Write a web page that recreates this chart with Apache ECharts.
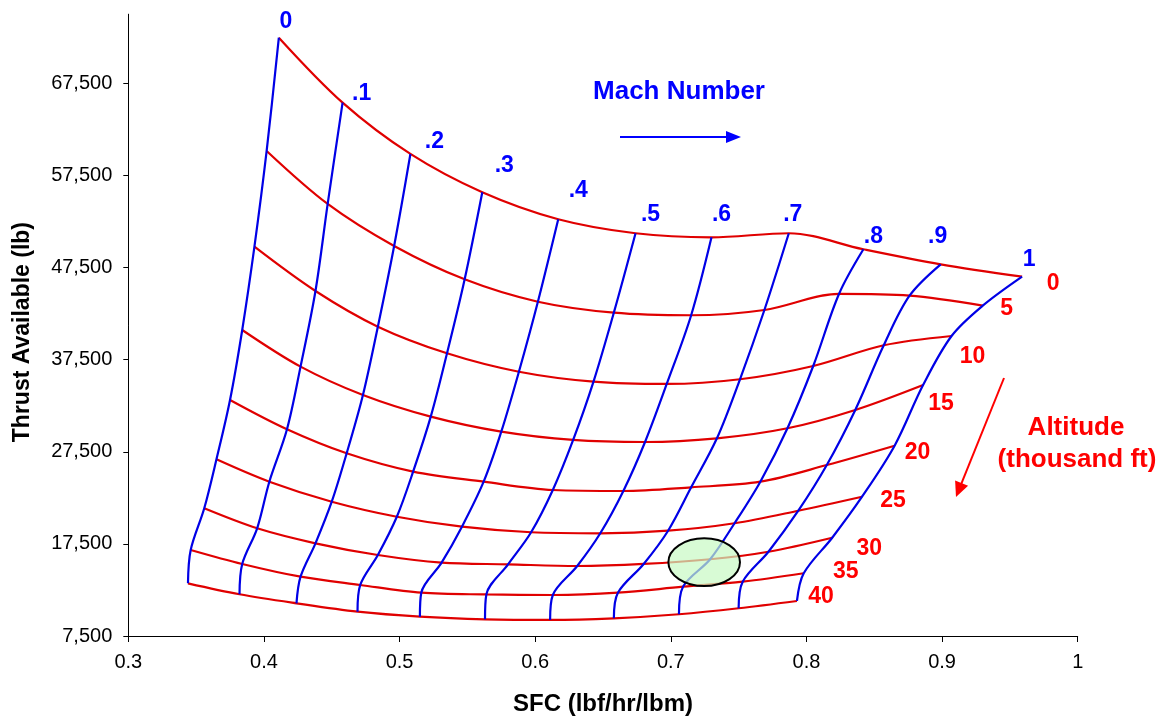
<!DOCTYPE html>
<html>
<head>
<meta charset="utf-8">
<script src="https://cdn.jsdelivr.net/npm/echarts@6/dist/echarts.min.js"></script>
<style>
html,body{margin:0;padding:0;background:#fff;}
#chart{width:1169px;height:721px;}
</style>
</head>
<body>
<div id="chart"></div>
<script>
// ---- Data ----
const machNumbers = [0, 0.1, 0.2, 0.3, 0.4, 0.5, 0.6, 0.7, 0.8, 0.9, 1.0];
const machLabels = ['0', '.1', '.2', '.3', '.4', '.5', '.6', '.7', '.8', '.9', '1'];
const altitudes = [0, 5, 10, 15, 20, 25, 30, 35, 40];
const altLabels = ['0', '5', '10', '15', '20', '25', '30', '35', '40'];

// SFC (lbf/hr/lbm) and thrust (lb) for each altitude, Mach 0 .. 1
const sfcAlt0 = [0.411, 0.458, 0.508, 0.561, 0.617, 0.674, 0.730, 0.787, 0.842, 0.899, 0.959];
const thrustAlt0 = [72450, 65400, 59830, 55670, 52740, 51220, 50780, 51220, 49480, 47850, 46510];
const sfcAlt5 = [0.402, 0.447, 0.496, 0.548, 0.602, 0.658, 0.715, 0.769, 0.824, 0.876, 0.930];
const thrustAlt5 = [60150, 54400, 49840, 46220, 43790, 42600, 42320, 42890, 44630, 44440, 43360];
const sfcAlt10 = [0.393, 0.438, 0.484, 0.535, 0.588, 0.643, 0.697, 0.751, 0.805, 0.857, 0.907];
const thrustAlt10 = [49760, 44950, 41080, 38190, 36190, 35110, 34860, 35370, 36810, 39060, 40070];
const sfcAlt15 = [0.384, 0.427, 0.473, 0.523, 0.575, 0.628, 0.681, 0.734, 0.786, 0.836, 0.886];
const thrustAlt15 = [40720, 36740, 33660, 31310, 29680, 28780, 28560, 28960, 30050, 32040, 34750];
const sfcAlt20 = [0.375, 0.417, 0.461, 0.510, 0.562, 0.613, 0.665, 0.715, 0.766, 0.815, 0.865];
const thrustAlt20 = [33120, 29940, 27330, 25340, 24250, 23350, 23240, 23640, 24250, 26060, 28160];
const sfcAlt25 = [0.365, 0.404, 0.450, 0.498, 0.546, 0.597, 0.648, 0.698, 0.747, 0.794, 0.841];
const thrustAlt25 = [26680, 24250, 22080, 20450, 19370, 18760, 18650, 18930, 19740, 21100, 22620];
const sfcAlt30 = [0.356, 0.395, 0.438, 0.484, 0.531, 0.580, 0.631, 0.680, 0.729, 0.772, 0.819];
const thrustAlt30 = [21360, 19190, 17560, 16290, 15460, 15280, 15100, 15320, 15830, 16650, 18170];
const sfcAlt35 = [0.346, 0.384, 0.427, 0.471, 0.516, 0.564, 0.613, 0.661, 0.709, 0.753, 0.798];
const thrustAlt35 = [16840, 15320, 13940, 13040, 12200, 12010, 11950, 12200, 12850, 13400, 14310];
const sfcAlt40 = [0.344, 0.382, 0.424, 0.469, 0.515, 0.563, 0.611, 0.658, 0.706, 0.750, 0.793];
const thrustAlt40 = [13220, 12030, 11050, 10140, 9600, 9310, 9240, 9420, 9860, 10510, 11300];

// Axis ticks
const xTicks = [0.3, 0.4, 0.5, 0.6, 0.7, 0.8, 0.9, 1.0];
const yTicks = [7500, 17500, 27500, 37500, 47500, 57500, 67500];
const yMax = 75000;

// Highlighted operating point (ellipse annotation)
const highlightPoint = [0.7246, 15510];
const highlightRadius = [0.0264, 2590];

// ---- Layout helpers (label placement only) ----
const machLabelOffsets = [[7,-16],[19,-9],[24,-12],[22,-27],[20,-29],[15,-19],[10,-23],[4,-19],[10,-13],[-3,-28],[7,-17]];
const altLabelOffsets = [[31,7],[24,3],[21,21],[18,19],[23,7],[31,4],[37,11],[42,-2],[24,-4]];

const sfcByAlt = [sfcAlt0, sfcAlt5, sfcAlt10, sfcAlt15, sfcAlt20, sfcAlt25, sfcAlt30, sfcAlt35, sfcAlt40];
const thrustByAlt = [thrustAlt0, thrustAlt5, thrustAlt10, thrustAlt15, thrustAlt20, thrustAlt25, thrustAlt30, thrustAlt35, thrustAlt40];

const FONT = "'Liberation Sans', Arial, Helvetica, sans-serif";
const RED = '#e00000';
const BLUE = '#0000e6';
const SMOOTH = 0.33;

const series = [];
altitudes.forEach((alt, a) => {
  series.push({
    name: 'Alt ' + alt,
    type: 'line',
    smooth: SMOOTH,
    showSymbol: false,
    silent: true,
    lineStyle: { color: RED, width: 2.2 },
    data: machNumbers.map((m, i) => [sfcByAlt[a][i], thrustByAlt[a][i]]),
    z: 2
  });
});
machNumbers.forEach((m, i) => {
  series.push({
    name: 'Mach ' + m,
    type: 'line',
    smooth: SMOOTH,
    showSymbol: false,
    silent: true,
    lineStyle: { color: BLUE, width: 2.2 },
    data: altitudes.map((alt, a) => [sfcByAlt[a][i], thrustByAlt[a][i]]),
    z: 3
  });
});
// Mach labels at altitude 0 points
series.push({
  type: 'scatter',
  symbolSize: 0,
  silent: true,
  itemStyle: { opacity: 1 },
  z: 5,
  data: machNumbers.map((m, i) => ({
    value: [sfcAlt0[i], thrustAlt0[i]],
    label: {
      show: true, position: 'inside', offset: machLabelOffsets[i],
      formatter: machLabels[i], color: '#0000ff', opacity: 1,
      fontFamily: FONT, fontWeight: 'bold', fontSize: 23
    }
  }))
});
// Altitude labels at Mach 1 points
series.push({
  type: 'scatter',
  symbolSize: 0,
  silent: true,
  itemStyle: { opacity: 1 },
  z: 5,
  data: altitudes.map((alt, a) => ({
    value: [sfcByAlt[a][10], thrustByAlt[a][10]],
    label: {
      show: true, position: 'inside', offset: altLabelOffsets[a],
      formatter: altLabels[a], color: '#ff0000', opacity: 1,
      fontFamily: FONT, fontWeight: 'bold', fontSize: 23
    }
  }))
});

const chart = echarts.init(document.getElementById('chart'), null, { renderer: 'canvas' });

const option = {
  animation: false,
  backgroundColor: '#ffffff',
  grid: { left: 128.3, right: 91.3, top: 14.2, bottom: 85, containLabel: false },
  xAxis: {
    type: 'value',
    min: xTicks[0], max: xTicks[xTicks.length - 1], interval: 0.1,
    name: 'SFC (lbf/hr/lbm)',
    nameLocation: 'middle', nameGap: 56,
    nameTextStyle: { fontFamily: FONT, fontWeight: 'bold', fontSize: 24, color: '#000' },
    axisLine: { show: true, onZero: false, lineStyle: { color: '#000', width: 1 } },
    axisTick: { show: true, inside: false, length: 6, lineStyle: { color: '#000' } },
    axisLabel: {
      margin: 16, fontFamily: FONT, fontSize: 20, color: '#000',
      formatter: v => String(Math.round(v * 10) / 10)
    },
    splitLine: { show: false }
  },
  yAxis: {
    type: 'value',
    min: yTicks[0], max: yMax, interval: 10000,
    name: 'Thrust Available (lb)',
    nameLocation: 'middle', nameGap: 94, nameRotate: 90,
    nameTextStyle: { fontFamily: FONT, fontWeight: 'bold', fontSize: 23, color: '#000', padding: [0, 14, 0, 0] },
    axisLine: { show: true, onZero: false, lineStyle: { color: '#000', width: 1 } },
    axisTick: { show: true, inside: false, length: 5, lineStyle: { color: '#000' } },
    axisLabel: {
      margin: 16, fontFamily: FONT, fontSize: 20, color: '#000',
      showMaxLabel: false,
      formatter: v => (yTicks.indexOf(Math.round(v)) >= 0 ? Math.round(v).toLocaleString('en-US') : '')
    },
    splitLine: { show: false }
  },
  series: series
};
chart.setOption(option);

// Annotations (arrows, titles, ellipse)
const c = chart.convertToPixel({ gridIndex: 0 }, highlightPoint);
const e = chart.convertToPixel({ gridIndex: 0 }, [highlightPoint[0] + highlightRadius[0], highlightPoint[1] + highlightRadius[1]]);
const rx = Math.abs(e[0] - c[0]);
const ry = Math.abs(c[1] - e[1]);

function arrow(x1, y1, x2, y2, color, headLen, headHalf) {
  const dx = x2 - x1, dy = y2 - y1;
  const L = Math.sqrt(dx * dx + dy * dy);
  const ux = dx / L, uy = dy / L;
  const bx = x2 - ux * headLen, by = y2 - uy * headLen;
  const px = -uy, py = ux;
  return [
    { type: 'line', z: 10, shape: { x1: x1, y1: y1, x2: bx + ux * 2, y2: by + uy * 2 }, style: { stroke: color, lineWidth: 2 } },
    { type: 'polygon', z: 10, shape: { points: [[x2, y2], [bx + px * headHalf, by + py * headHalf], [bx - px * headHalf, by - py * headHalf]] }, style: { fill: color } }
  ];
}

const graphics = [
  { type: 'text', z: 10, style: { text: 'Mach Number', x: 679, y: 92, align: 'center', verticalAlign: 'middle', fill: '#0000ff', font: 'bold 26px ' + FONT } },
  ...arrow(620, 137, 741, 137, '#0000ff', 15, 6),
  { type: 'text', z: 10, style: { text: 'Altitude', x: 1076, y: 428, align: 'center', verticalAlign: 'middle', fill: '#ff0000', font: 'bold 26px ' + FONT } },
  { type: 'text', z: 10, style: { text: '(thousand ft)', x: 1077, y: 460, align: 'center', verticalAlign: 'middle', fill: '#ff0000', font: 'bold 26px ' + FONT } },
  ...arrow(1004, 378, 956, 497, '#ff0000', 15, 7),
  { type: 'ellipse', z: 10, shape: { cx: c[0], cy: c[1], rx: rx, ry: ry }, style: { fill: 'rgba(200,250,195,0.7)', stroke: '#000', lineWidth: 2 } }
];
chart.setOption({ graphic: graphics });
</script>
</body>
</html>
